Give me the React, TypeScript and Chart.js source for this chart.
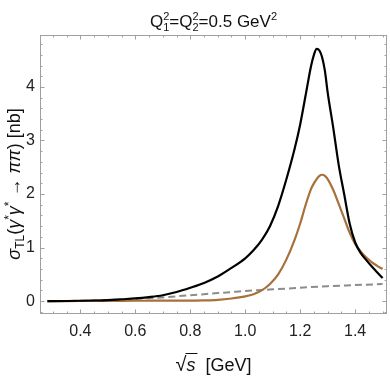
import { useEffect, useRef } from 'react';
import { Chart, registerables } from 'chart.js';

Chart.register(...registerables);

// ---- data ----
const energies = [0.28, 0.35, 0.4, 0.45, 0.5, 0.55, 0.6, 0.65, 0.7, 0.75, 0.8, 0.85, 0.9, 0.95, 1.0, 1.03, 1.06, 1.09, 1.12, 1.15, 1.18, 1.2, 1.22, 1.24, 1.25, 1.26, 1.27, 1.28, 1.29, 1.3, 1.32, 1.34, 1.36, 1.38, 1.4, 1.42, 1.44, 1.46, 1.48, 1.5];
const totalTL = [0, 0.003, 0.007, 0.012, 0.02, 0.035, 0.05, 0.075, 0.11, 0.17, 0.25, 0.34, 0.46, 0.62, 0.8, 0.95, 1.14, 1.4, 1.78, 2.28, 2.85, 3.3, 3.85, 4.4, 4.6, 4.71, 4.68, 4.55, 4.3, 3.9, 3.25, 2.55, 2.0, 1.45, 1.1, 0.9, 0.77, 0.65, 0.54, 0.43];
const resonanceTL = [0, 0.002, 0.003, 0.004, 0.005, 0.006, 0.007, 0.008, 0.009, 0.01, 0.011, 0.015, 0.025, 0.05, 0.09, 0.13, 0.2, 0.32, 0.5, 0.78, 1.15, 1.45, 1.8, 2.1, 2.2, 2.28, 2.34, 2.36, 2.34, 2.28, 2.08, 1.82, 1.55, 1.28, 1.07, 0.93, 0.82, 0.73, 0.66, 0.6];
const bgEnergies = [0.28, 0.35, 0.4, 0.45, 0.5, 0.55, 0.6, 0.65, 0.7, 0.75, 0.8, 0.85, 0.9, 0.95, 1.0, 1.1, 1.2, 1.3, 1.4, 1.5];
const bgTL = [0, 0.003, 0.007, 0.012, 0.02, 0.03, 0.04, 0.055, 0.07, 0.09, 0.11, 0.13, 0.15, 0.17, 0.19, 0.22, 0.25, 0.28, 0.3, 0.32];

const xTickValues = [0.4, 0.6, 0.8, 1.0, 1.2, 1.4];
const yTickValues = [0, 1, 2, 3, 4];
const xMinorStep = 0.05;
const yMinorStep = 0.2;
const xRange = [0.253, 1.516];
const yRange = [-0.24, 4.97];

const FAMILY = "'Liberation Sans', Arial, Helvetica, sans-serif";
const FRAME = '#a0a0a0';

type Run = { t: string; size: number; italic?: boolean; dy?: number; noAdvance?: boolean };

function runFont(r: Run) {
  return `${r.italic ? 'italic ' : ''}${r.size}px ${FAMILY}`;
}

function runsWidth(ctx: CanvasRenderingContext2D, runs: Run[]) {
  let w = 0;
  for (const r of runs) {
    ctx.font = runFont(r);
    if (!r.noAdvance) w += ctx.measureText(r.t).width;
  }
  return w;
}

function drawRuns(ctx: CanvasRenderingContext2D, runs: Run[], cx: number, baseline: number) {
  let x = cx - runsWidth(ctx, runs) / 2;
  ctx.textAlign = 'left';
  ctx.textBaseline = 'alphabetic';
  for (const r of runs) {
    ctx.font = runFont(r);
    ctx.fillText(r.t, x, baseline + (r.dy || 0));
    if (!r.noAdvance) x += ctx.measureText(r.t).width;
  }
  return x;
}

const titleRuns: Run[] = [
  { t: 'Q', size: 17 },
  { t: '2', size: 11, dy: -7, noAdvance: true },
  { t: '1', size: 11, dy: 4 },
  { t: '=Q', size: 17 },
  { t: '2', size: 11, dy: -7, noAdvance: true },
  { t: '2', size: 11, dy: 4 },
  { t: '=0.5 GeV', size: 17 },
  { t: '2', size: 11, dy: -7 },
];

const yTitleRuns: Run[] = [
  { t: 'σ', size: 18, italic: true },
  { t: 'TL', size: 12, dy: 4 },
  { t: '(', size: 18 },
  { t: 'γ', size: 18, italic: true },
  { t: '*', size: 12, dy: -7 },
  { t: 'γ', size: 18, italic: true },
  { t: '*', size: 12, dy: -7 },
  { t: ' → ', size: 18 },
  { t: 'ππ', size: 18, italic: true },
  { t: ') [nb]', size: 18 },
];

const framePlugin = {
  id: 'frameTicks',
  afterDraw(chart: any) {
    const { ctx, chartArea: a, scales } = chart;
    const xs = scales.x;
    const ys = scales.y;
    ctx.save();
    ctx.strokeStyle = FRAME;
    ctx.lineWidth = 1;
    ctx.strokeRect(a.left + 0.5, a.top + 0.5, a.right - a.left - 1, a.bottom - a.top - 1);

    const major = 4.5;
    const minor = 2.5;
    ctx.beginPath();
    for (let v = Math.ceil(xRange[0] / xMinorStep) * xMinorStep; v <= xRange[1] + 1e-9; v += xMinorStep) {
      const isMajor = xTickValues.some((t) => Math.abs(t - v) < 1e-6);
      const len = isMajor ? major : minor;
      const px = Math.round(xs.getPixelForValue(v)) + 0.5;
      ctx.moveTo(px, a.bottom);
      ctx.lineTo(px, a.bottom - len);
      ctx.moveTo(px, a.top);
      ctx.lineTo(px, a.top + len);
    }
    for (let v = Math.ceil(yRange[0] / yMinorStep) * yMinorStep; v <= yRange[1] + 1e-9; v += yMinorStep) {
      const isMajor = yTickValues.some((t) => Math.abs(t - v) < 1e-6);
      const len = isMajor ? major : minor;
      const py = Math.round(ys.getPixelForValue(v)) + 0.5;
      ctx.moveTo(a.left, py);
      ctx.lineTo(a.left + len, py);
      ctx.moveTo(a.right, py);
      ctx.lineTo(a.right - len, py);
    }
    ctx.stroke();

    ctx.fillStyle = '#111';
    const cx = (a.left + a.right) / 2;
    drawRuns(ctx, titleRuns, cx, 27);

    const xRuns: Run[] = [
      { t: '√', size: 20 },
      { t: 's', size: 18, italic: true },
      { t: '  [GeV]', size: 18 },
    ];
    const base = 371;
    const start = cx - runsWidth(ctx, xRuns) / 2;
    drawRuns(ctx, xRuns, cx, base);
    ctx.font = runFont(xRuns[0]);
    const rw = ctx.measureText('√').width;
    ctx.font = runFont(xRuns[1]);
    const sw = ctx.measureText('s').width;
    ctx.strokeStyle = '#111';
    ctx.lineWidth = 1;
    ctx.beginPath();
    ctx.moveTo(start + rw - 1, base - 17.5);
    ctx.lineTo(start + rw + sw + 2, base - 17.5);
    ctx.stroke();

    ctx.save();
    ctx.translate(20, 184);
    ctx.rotate(-Math.PI / 2);
    drawRuns(ctx, yTitleRuns, 0, 0);
    ctx.restore();

    ctx.restore();
  },
};

export default function App() {
  const ref = useRef<HTMLCanvasElement | null>(null);

  useEffect(() => {
    if (!ref.current) return;
    const toPts = (xs: number[], ys: number[]) => xs.map((x, i) => ({ x, y: ys[i] }));
    const chart = new Chart(ref.current, {
      type: 'line',
      data: {
        datasets: [
          {
            label: 'total',
            data: toPts(energies, totalTL),
            borderColor: '#000000',
            borderWidth: 2.2,
            pointRadius: 0,
            cubicInterpolationMode: 'monotone',
            order: 0,
          },
          {
            label: 'resonance',
            data: toPts(energies, resonanceTL),
            borderColor: '#a8703a',
            borderWidth: 2.2,
            pointRadius: 0,
            cubicInterpolationMode: 'monotone',
            order: 1,
          },
          {
            label: 'background',
            data: toPts(bgEnergies, bgTL),
            borderColor: '#8c8c8c',
            borderWidth: 2,
            borderDash: [7, 4],
            pointRadius: 0,
            cubicInterpolationMode: 'monotone',
            order: 2,
          },
        ],
      },
      options: {
        animation: false,
        responsive: false,
        maintainAspectRatio: false,
        layout: { padding: { top: 35, right: 3, left: 0, bottom: 0 } },
        plugins: { legend: { display: false }, tooltip: { enabled: false }, title: { display: false } },
        scales: {
          x: {
            type: 'linear',
            min: xRange[0],
            max: xRange[1],
            afterBuildTicks: (s: any) => {
              s.ticks = xTickValues.map((v) => ({ value: v }));
            },
            afterFit: (s: any) => {
              s.height = 76;
            },
            ticks: {
              autoSkip: false,
              maxRotation: 0,
              padding: 8,
              color: '#222',
              font: { family: FAMILY, size: 16 },
              callback: (v: any) => Number(v).toFixed(1),
            },
            grid: { display: false, drawTicks: false },
            border: { display: false },
          },
          y: {
            type: 'linear',
            min: yRange[0],
            max: yRange[1],
            afterBuildTicks: (s: any) => {
              s.ticks = yTickValues.map((v) => ({ value: v }));
            },
            afterFit: (s: any) => {
              s.width = 40;
            },
            ticks: {
              autoSkip: false,
              padding: 5,
              color: '#222',
              font: { family: FAMILY, size: 16 },
              callback: (v: any) => String(v),
            },
            grid: { display: false, drawTicks: false },
            border: { display: false },
          },
        },
      },
      plugins: [framePlugin],
    });
    return () => chart.destroy();
  }, []);

  return (
    <div style={{ position: 'fixed', left: 0, top: 0, width: 390, height: 390, background: '#fff' }}>
      <canvas ref={ref} width={390} height={390} style={{ width: 390, height: 390 }} />
    </div>
  );
}
